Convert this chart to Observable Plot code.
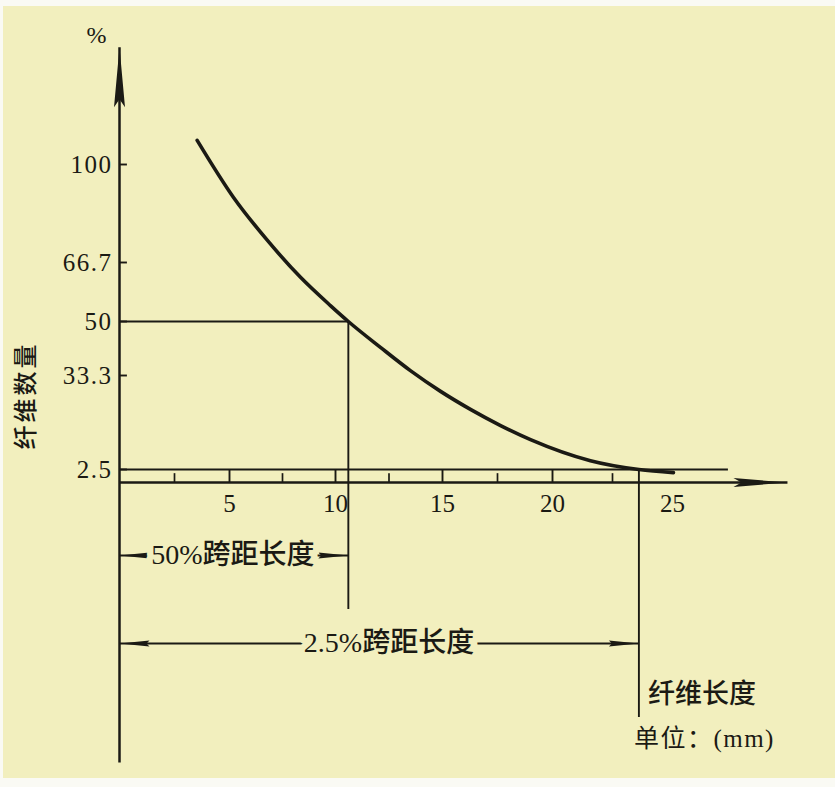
<!DOCTYPE html>
<html><head><meta charset="utf-8">
<script src="https://cdn.jsdelivr.net/npm/d3@7"></script>
<script src="https://cdn.jsdelivr.net/npm/@observablehq/plot@0.6"></script>
<style>
html,body{margin:0;padding:0;background:#fafaf4;}
#chart svg{display:block;box-shadow:inset 0 6px 0 #fafaf4, inset 0 -9px 0 #fafaf4, inset 3px 0 0 #fafaf4;}
#chart text{paint-order:stroke;stroke-linejoin:round;}
</style></head><body><div id="chart"></div>
<script>
// ---- data ----
const fiberLength  = [3.53, 5.19, 6.79, 8.35, 9.76, 10.6, 12.1, 13.5, 14.91, 16.27, 17.64, 19.0, 21.58, 23.6, 25.04];
const fiberPercent = [108.2, 88.8, 74.2, 62.5, 54.5, 50, 42.0, 34.8, 28.1, 22.2, 16.9, 12.3, 5.4, 2.5, 1.9];
const yTickValues = [100, 66.7, 50, 33.3, 2.5];
const yTickLabels = ["100", "66.7", "50", "33.3", "2.5"];
const xTickValues = [5, 10, 15, 20, 25];
const xMajorTicks = [5, 10, 15, 20];
const xMinorTicks = [2.5, 7.5, 12.5, 17.5, 22.5];
const spanLevels  = [50, 2.5];          // % levels
const spanLengths = [10.6, 23.6];       // mm at those levels
const spanLabels  = ["50%跨距长度", "2.5%跨距长度"];
const yTitle = "纤维数量";
const yUnit = "%";
const xTitle = "纤维长度";
const xUnit = "单位：(mm)";

// ---- layout (not data) ----
const ink = "#1b1a14";
const bg = "#f2efbe";
const L = {               // y positions below the axis (1 unit = 1px below 0)
  row50: -73, v50Bottom: -127, row25: -161, v25Bottom: -235, yAxisBottom: -280,
  xTitle: -212, xUnit: -256, yAxisTop: 139.8, xAxisEnd: 29.79, line25End: 27.33,
  yTickLen: 0.36, minorLen: 1.7, yTitleAt: 26.75
};
const labelShift = [-3, 15];

const curve = fiberLength.map((x, i) => ({len: x, pct: fiberPercent[i]}));
const yTicks = yTickValues.map((v, i) => ({v, label: yTickLabels[i]}));
const spans = spanLevels.map((lvl, i) => ({lvl, len: spanLengths[i], label: spanLabels[i]}));
const rows = [L.row50, L.row25];
const dimArrows = [];
spans.forEach((s, i) => {
  dimArrows.push({x1: s.len / 2, x2: 0, y: rows[i]});
  dimArrows.push({x1: s.len / 2, x2: s.len, y: rows[i]});
});
const dimLabels = spans.map((s, i) => ({x: s.len / 2, y: rows[i], label: s.label}));

const serifCJK = "'Liberation Serif', 'Noto Sans CJK SC', serif";

const plot = Plot.plot({
  width: 835, height: 787, margin: 0,
  x: {type: "linear", domain: [0, 5, 10, 15, 20, 25], range: [119, 229, 335, 442, 552, 672], axis: null},
  y: {type: "linear", domain: [-305, 0, 2.5, 33.3, 50, 66.7, 100], range: [787, 482, 469, 375, 321, 262, 164], axis: null},
  style: {background: bg, overflow: "visible"},
  marks: [
    // reference lines
    Plot.ruleY([spans[1].lvl], {x1: 0, x2: L.line25End, stroke: ink, strokeWidth: 1.9}),
    Plot.ruleY([spans[0].lvl], {x1: 0, x2: spans[0].len, stroke: ink, strokeWidth: 1.9}),
    Plot.ruleX([spans[0].len], {y1: L.v50Bottom, y2: spans[0].lvl, stroke: ink, strokeWidth: 1.9}),
    Plot.ruleX([spans[1].len], {y1: L.v25Bottom, y2: spans[1].lvl, stroke: ink, strokeWidth: 1.9}),
    // ticks
    Plot.ruleX(xMajorTicks, {y1: 0, y2: 2.5, stroke: ink, strokeWidth: 1.9}),
    Plot.ruleX(xMinorTicks, {y1: 0, y2: L.minorLen, stroke: ink, strokeWidth: 1.7}),
    Plot.ruleY(yTicks, {y: "v", x1: 0, x2: L.yTickLen, stroke: ink, strokeWidth: 1.9}),
    // axes (link #0 = x axis, #1 = y axis)
    Plot.link([{}], {x1: 0, x2: L.xAxisEnd, y1: 0, y2: 0, stroke: ink, strokeWidth: 2.5}),
    Plot.link([{}], {x1: 0, x2: 0, y1: L.yAxisBottom, y2: L.yAxisTop, stroke: ink, strokeWidth: 2.5}),
    // curve
    Plot.line(curve, {x: "len", y: "pct", curve: "monotone-x", stroke: ink, strokeWidth: 3.6}),
    // dimension arrows (link #2)
    Plot.link(dimArrows, {x1: "x1", x2: "x2", y1: "y", y2: "y", stroke: ink, strokeWidth: 1.9}),
    // text #0
    Plot.text(dimLabels, {x: "x", y: "y", text: "label", fontFamily: serifCJK, fontSize: 28, fontWeight: 500,
      fill: ink, stroke: bg, strokeWidth: 13}),
    // text #1 y tick labels
    Plot.text(yTicks, {x: 0, y: "v", text: "label", dx: -7, textAnchor: "end", fontFamily: "'Liberation Serif', serif", fontSize: 25, fill: ink}),
    // text #2 x tick labels
    Plot.text(xTickValues, {x: d => d, y: 0, text: d => String(d), dy: 21, fontFamily: "'Liberation Serif', serif", fontSize: 25, fill: ink}),
    // text #3..6 titles
    Plot.text([yUnit], {x: 0, y: L.yAxisTop, text: d => d, dx: -23, dy: -12, fontFamily: "'Liberation Serif', serif", fontSize: 24, fill: ink}),
    Plot.text([yTitle], {x: 0, y: L.yTitleAt, text: d => d, dx: -93, rotate: -90, fontFamily: "'Noto Sans CJK SC', sans-serif", fontSize: 24, fontWeight: 500, fill: ink}),
    Plot.text([xTitle], {x: spans[1].len, y: L.xTitle, text: d => d, dx: 9, textAnchor: "start", fontFamily: "'Noto Sans CJK SC', sans-serif", fontSize: 27, fontWeight: 500, fill: ink}),
    Plot.text([xUnit], {x: spans[1].len, y: L.xUnit, text: d => d, dx: -5, textAnchor: "start", fontFamily: serifCJK, fontSize: 25, fill: ink})
  ]
});

const svgEl = plot.tagName.toLowerCase() === "svg" ? plot : plot.querySelector("svg");
const svg = d3.select(svgEl);
const defs = svg.insert("defs", ":first-child");
function marker(id, len, w, notch) {
  defs.append("marker").attr("id", id).attr("markerUnits", "userSpaceOnUse")
    .attr("viewBox", `${-len - 1} ${-w / 2 - 1} ${len + 2} ${w + 2}`)
    .attr("markerWidth", len + 2).attr("markerHeight", w + 2)
    .attr("refX", 0).attr("refY", 0).attr("orient", "auto")
    .append("path").attr("d", `M0,0L${-len},${-w / 2}L${-len + notch},0L${-len},${w / 2}Z`).attr("fill", ink);
}
marker("ahSmall", 30, 6, 3);
marker("ahX", 54, 9, 8);
marker("ahY", 60, 11, 8);
const linkGroups = svgEl.querySelectorAll('g[aria-label="link"]');
const markerIds = ["ahX", "ahY", "ahSmall"];
linkGroups.forEach((g, i) => {
  d3.select(g).selectAll("path, line").attr("marker-end", `url(#${markerIds[i] || "ahSmall"})`);
});
const textGroups = svgEl.querySelectorAll('g[aria-label="text"]');
// dimension label horizontal nudge
d3.select(textGroups[0]).selectAll("text").each(function(d, i) {
  const t = d3.select(this);
  t.attr("transform", (t.attr("transform") || "") + ` translate(${labelShift[i]},0)`);
});
d3.select(textGroups[1]).selectAll("text").style("letter-spacing", "1.5px");
d3.select(textGroups[4]).selectAll("text").style("letter-spacing", "3px");
d3.select(textGroups[6]).selectAll("text").style("letter-spacing", "1.5px");
document.getElementById("chart").appendChild(plot);
</script></body></html>
